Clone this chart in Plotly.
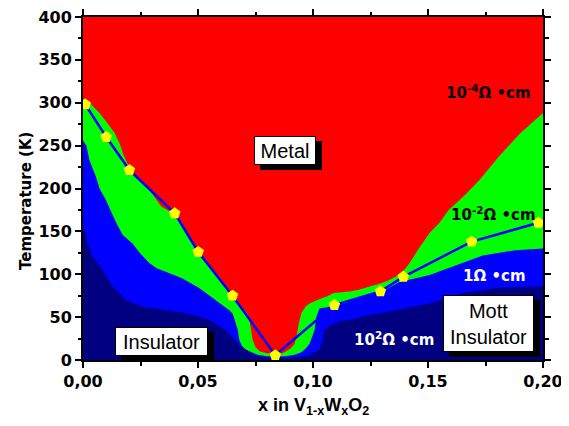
import plotly.graph_objects as go

# ---------------- data ----------------
# Metal region (top of the plot)
metal_x = [0.0, 0.20]
metal_top = [400, 400]

# upper boundary of the 10^-2 Ohm cm (green) region
green_x = [0.000, 0.0035, 0.0072, 0.0105, 0.0137, 0.0160, 0.0175, 0.0200, 0.0240, 0.0280,
           0.0310, 0.0340, 0.0380, 0.0400, 0.0450, 0.0500, 0.0550, 0.0600, 0.0650, 0.0680,
           0.0705, 0.0717, 0.0725, 0.0730, 0.0737, 0.0750, 0.0770, 0.0800, 0.0836, 0.0860,
           0.0880, 0.0905, 0.0920, 0.0930, 0.0940, 0.0950, 0.0970, 0.0985, 0.1010, 0.1030,
           0.1060, 0.1090, 0.1160, 0.1200, 0.1250, 0.1290, 0.1330, 0.1360, 0.1400, 0.1420,
           0.1460, 0.1507, 0.1550, 0.1590, 0.1660, 0.1724, 0.1810, 0.1900, 0.2000]
green_top = [305, 298, 288, 277, 265, 252, 240, 225, 212, 202,
             190, 179, 173, 170, 148, 126, 109, 92, 74, 65,
             57, 53, 45, 35, 24, 15, 10, 8, 6.5, 7,
             9.5, 14, 19, 30, 45, 55, 63, 66, 69, 71,
             74, 78, 80, 82, 86, 89, 93, 97, 106, 113,
             130, 148, 160, 175, 192, 210, 238, 264, 288]

# upper boundary of the 1 Ohm cm (blue) region
blue_x = [0.000, 0.0015, 0.0028, 0.0056, 0.0072, 0.0099, 0.0143, 0.0172, 0.0215, 0.0250,
          0.0288, 0.0320, 0.0360, 0.0433, 0.0505, 0.0577, 0.0636, 0.0651, 0.0665, 0.0673,
          0.0680, 0.0690, 0.0708, 0.0724, 0.0760, 0.0800, 0.0836, 0.0880, 0.0920, 0.0950,
          0.0970, 0.0985, 0.1000, 0.1007, 0.1014, 0.1028, 0.1072, 0.1093, 0.1150, 0.1217,
          0.1289, 0.1376, 0.1507, 0.1650, 0.1738, 0.1880, 0.2000]
blue_top = [256, 250, 233, 214, 200, 187, 161, 146, 136, 124,
            113, 107, 103, 95, 84, 70, 58, 54, 43, 35,
            23, 17, 12, 10, 6, 4.5, 4, 4.5, 6, 9,
            14, 19, 30, 35, 50, 60, 62, 63, 67, 74,
            78, 91, 99, 113, 122, 128, 130]

# upper boundary of the 10^2 Ohm cm (navy) region
navy_x = [0.000, 0.0010, 0.0020, 0.0041, 0.0085, 0.0128, 0.0186, 0.0259, 0.0360, 0.0462,
          0.0549, 0.0593, 0.0621, 0.0650, 0.0666, 0.0680, 0.0710, 0.0750, 0.0800, 0.0836,
          0.0900, 0.0980, 0.1028, 0.1043, 0.1050, 0.1072, 0.1115, 0.1200, 0.1217, 0.1360,
          0.1507, 0.1650, 0.1797, 0.2000]
navy_top = [152, 150, 136, 121, 105, 86, 70, 62, 58, 54,
            47, 40, 35, 26, 23, 16, 12, 5, 2.5, 2,
            2.5, 5, 12, 23, 35, 40, 45, 49, 51, 58,
            66, 78, 84, 86]

# measured transition temperatures (yellow pentagons)
tc_x = [0.001, 0.0101, 0.0202, 0.0399, 0.0501, 0.065, 0.0836, 0.1093, 0.1293, 0.1393, 0.169, 0.198]
tc_T = [298, 260, 221.5, 171, 126, 75, 5.5, 64, 80, 97, 138, 160]

# tick labels
x_tick_vals = [0.0, 0.05, 0.10, 0.15, 0.20]
x_tick_text = ["0,00", "0,05", "0,10", "0,15", "0,20"]
y_tick_vals = [0, 50, 100, 150, 200, 250, 300, 350, 400]
y_tick_text = ["0", "50", "100", "150", "200", "250", "300", "350", "400"]

# ---------------- figure ----------------
RED, GREEN, BLUE, NAVY = "#FF0000", "#00FF00", "#0000FF", "#000080"
FONT = "Liberation Sans, Arial, sans-serif"
WIDE = "DejaVu Sans, Verdana, sans-serif"

fig = go.Figure()
fig.add_trace(go.Scatter(x=metal_x, y=metal_top, mode="lines", line=dict(width=0, color=RED),
                         fill="tozeroy", fillcolor=RED, hoverinfo="skip"))
fig.add_trace(go.Scatter(x=green_x, y=green_top, mode="lines", line=dict(width=0, color=GREEN),
                         fill="tozeroy", fillcolor=GREEN, hoverinfo="skip"))
fig.add_trace(go.Scatter(x=blue_x, y=blue_top, mode="lines", line=dict(width=0, color=BLUE),
                         fill="tozeroy", fillcolor=BLUE, hoverinfo="skip"))
fig.add_trace(go.Scatter(x=navy_x, y=navy_top, mode="lines", line=dict(width=0, color=NAVY),
                         fill="tozeroy", fillcolor=NAVY, hoverinfo="skip"))
fig.add_trace(go.Scatter(x=tc_x, y=tc_T, mode="lines+markers",
                         line=dict(color=BLUE, width=2.5),
                         marker=dict(symbol="pentagon", size=12, color="#FFFF00",
                                     line=dict(width=0))))

def boxed(text, x, y, w, h):
    common = dict(x=x, y=y, xref="x", yref="y", text=text, showarrow=False,
                  width=w, height=h, borderwidth=1, borderpad=0, align="center")
    fig.add_annotation(**common, xshift=6, yshift=-5, bgcolor="black", bordercolor="black",
                       font=dict(family=FONT, size=20, color="black"))
    fig.add_annotation(**common, bgcolor="white", bordercolor="black",
                       font=dict(family=FONT, size=20, color="black"))

boxed("Metal", 0.0877, 244.5, 60, 27)
boxed("Insulator", 0.0341, 22, 91, 27)
boxed("Mott<br>Insulator", 0.1761, 42, 89, 55)

def label(text, x, y, color):
    fig.add_annotation(x=x, y=y, xref="x", yref="y", text=text, showarrow=False,
                       font=dict(family=WIDE, size=15, color=color, weight="bold"))

label("10<sup>-4</sup>Ω •cm", 0.1763, 312.5, "black")
label("10<sup>-2</sup>Ω •cm", 0.1785, 170.3, "black")
label("1Ω •cm", 0.1789, 98, "white")
label("10<sup>2</sup>Ω •cm", 0.135, 24.5, "white")

# axis titles
fig.add_annotation(x=-0.125, y=0.462, xref="paper", yref="paper", textangle=-90,
                   xanchor="center", yanchor="middle",
                   text="Temperature (K)", showarrow=False,
                   font=dict(family=WIDE, size=15, color="black", weight="bold"))
fig.add_annotation(x=0.5, y=-0.137, xref="paper", yref="paper",
                   xanchor="center", yanchor="middle",
                   text="x in V<sub>1-x</sub>W<sub>x</sub>O<sub>2</sub>", showarrow=False,
                   font=dict(family=FONT, size=18, color="black", weight="bold"))

axis_common = dict(showline=True, linecolor="black", linewidth=2, mirror="ticks",
                   ticks="outside", ticklen=6, tickwidth=2, tickcolor="black",
                   showgrid=False, zeroline=False, automargin=False,
                   ticklabeloverflow="allow",
                   tickfont=dict(family=WIDE, size=16, color="black", weight="bold"))

fig.update_xaxes(range=[0, 0.20], tickvals=x_tick_vals, ticktext=x_tick_text,
                 minor=dict(ticks="outside", ticklen=3.5, tickwidth=2, tickcolor="black",
                            dtick=0.025, showgrid=False),
                 **axis_common)
fig.update_yaxes(range=[0, 400], tickvals=y_tick_vals, ticktext=y_tick_text,
                 minor=dict(ticks="outside", ticklen=3.5, tickwidth=2, tickcolor="black",
                            dtick=25, showgrid=False),
                 **axis_common)

# the page body adds an 8 px offset, so the figure is drawn 8 px smaller
fig.update_layout(width=561, height=418, showlegend=False,
                  margin=dict(l=75, r=26, t=9, b=66, pad=0),
                  paper_bgcolor="white", plot_bgcolor=RED)

fig.write_html("out.html")
